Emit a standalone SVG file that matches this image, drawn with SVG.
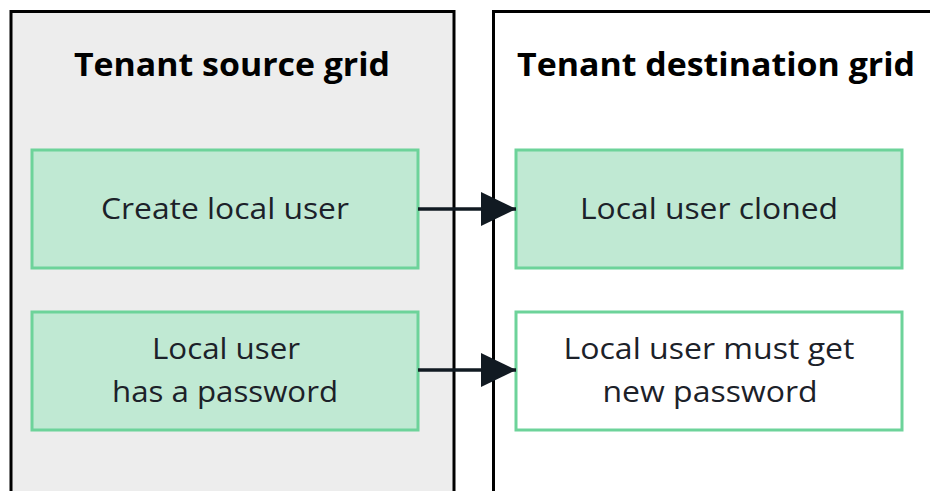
<svg xmlns="http://www.w3.org/2000/svg" width="930" height="491" viewBox="0 0 930 491">
<defs>
<style>
.panel{stroke:#000;stroke-width:3}
.box{stroke:#6dd39a;stroke-width:3}
.title{font-family:"Open Sans","Liberation Sans",sans-serif;font-weight:bold;font-size:32px;fill:#000;text-anchor:middle}
.lbl{font-family:"Open Sans","Liberation Sans",sans-serif;font-size:30px;fill:#1c2129;text-anchor:middle}
.conn{stroke:#111a22;stroke-width:3.5;fill:none}
</style>
<marker id="ah" markerUnits="userSpaceOnUse" markerWidth="36" markerHeight="36" refX="35" refY="17" orient="auto">
<path d="M0,0 L35,17 L0,34 Z" fill="#111a22"/>
</marker>
</defs>
<rect width="930" height="491" fill="#fff"/>
<g id="source-grid">
<rect class="panel" x="11" y="11.5" width="443" height="500" fill="#ededed"/>
<text class="title" x="232" y="76" textLength="316" lengthAdjust="spacingAndGlyphs">Tenant source grid</text>
</g>
<g id="destination-grid">
<rect class="panel" x="493.5" y="11.5" width="450" height="500" fill="#fff"/>
<text class="title" x="716" y="76" textLength="398" lengthAdjust="spacingAndGlyphs">Tenant destination grid</text>
</g>
<g id="create-local-user">
<rect class="box" x="32" y="150" width="386" height="118" fill="#c0e9d3"/>
<text class="lbl" x="225" y="219" textLength="248" lengthAdjust="spacingAndGlyphs">Create local user</text>
</g>
<g id="local-user-cloned">
<rect class="box" x="516" y="150" width="386" height="118" fill="#c0e9d3"/>
<text class="lbl" x="709" y="219" textLength="258" lengthAdjust="spacingAndGlyphs">Local user cloned</text>
</g>
<g id="local-user-password">
<rect class="box" x="32" y="312" width="386" height="118" fill="#c0e9d3"/>
<text class="lbl" x="226" y="359" textLength="148" lengthAdjust="spacingAndGlyphs">Local user</text>
<text class="lbl" x="225" y="402" textLength="226" lengthAdjust="spacingAndGlyphs">has a password</text>
</g>
<g id="local-user-new-password">
<rect class="box" x="516" y="312" width="386" height="118" fill="#fff"/>
<text class="lbl" x="709" y="359" textLength="291" lengthAdjust="spacingAndGlyphs">Local user must get</text>
<text class="lbl" x="710" y="402" textLength="215" lengthAdjust="spacingAndGlyphs">new password</text>
</g>
<g id="connectors">
<line class="conn" x1="418" y1="209" x2="516" y2="209" marker-end="url(#ah)"/>
<line class="conn" x1="418" y1="370" x2="516" y2="370" marker-end="url(#ah)"/>
</g>
</svg>
